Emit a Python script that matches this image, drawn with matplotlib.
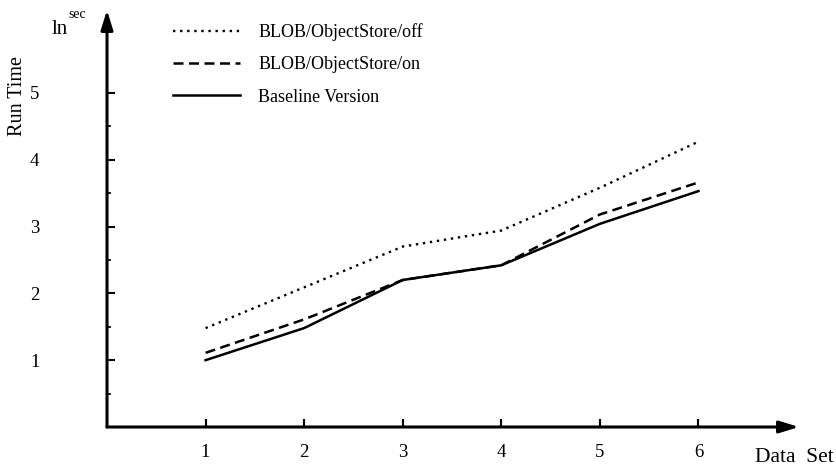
import matplotlib
matplotlib.use("Agg")
import matplotlib.pyplot as plt

data_sets = [1, 2, 3, 4, 5, 6]
blob_off = [1.48, 2.09, 2.70, 2.94, 3.58, 4.27]
blob_on = [1.11, 1.61, 2.20, 2.42, 3.18, 3.66]
baseline = [1.00, 1.48, 2.20, 2.42, 3.04, 3.53]
labels = ["BLOB/ObjectStore/off", "BLOB/ObjectStore/on", "Baseline Version"]
x_ticks = [1, 2, 3, 4, 5, 6]
y_ticks = [1, 2, 3, 4, 5]

plt.rcParams['font.family'] = ['Liberation Serif', 'DejaVu Serif']

fig = plt.figure(figsize=(8.36, 4.70), dpi=100)
ax = fig.add_axes([107/836, 1-427/470, (799-107)/836, (427-10)/470])

l1, = ax.plot(data_sets, blob_off, color='black', lw=1.7, linestyle=(0, (1, 2)))
l2, = ax.plot(data_sets, blob_on, color='black', lw=1.8, linestyle=(0, (4, 2.2)))
l3, = ax.plot(data_sets, baseline, color='black', lw=1.8, linestyle='-')

ax.set_xlim(0, 7.02)
ax.set_ylim(0, 6.24)
for s in ax.spines.values():
    s.set_visible(False)

for tip in [(1, 0), (0, 1)]:
    ax.annotate('', xy=tip, xytext=(0, 0), xycoords='axes fraction',
                arrowprops=dict(arrowstyle='-|>,head_length=0.65,head_width=0.2',
                                color='black', lw=2.2, mutation_scale=18,
                                shrinkA=0, shrinkB=0))

ax.set_xticks(x_ticks)
ax.set_yticks(y_ticks)
ax.set_yticks([0.5 + i for i in range(5)], minor=True)
ax.tick_params(axis='both', which='major', direction='in', length=6, width=1.5,
               labelsize=13.5, pad=8)
ax.tick_params(axis='y', which='minor', direction='in', length=3, width=1.2)
ax.tick_params(axis='y', which='major', pad=52)
ax.tick_params(axis='x', which='major', pad=12)
for lab in ax.get_yticklabels():
    lab.set_horizontalalignment('center')

fig.text(18/836, 1-96/470, 'Run Time', rotation=90, ha='center', va='center', fontsize=14.5)
fig.text(52/836, 1-29/470, 'ln', ha='left', va='center', fontsize=15)
fig.text(68/836, 1-15/470, 'sec', ha='left', va='center', fontsize=10)
fig.text(834/836, 1-457/470, 'Data  Set', ha='right', va='center', fontsize=15.5)

leg = ax.legend([l1, l2, l3], labels, loc='upper left',
                bbox_to_anchor=(157/836, 1-7/470), bbox_transform=fig.transFigure,
                frameon=False, fontsize=13, handlelength=3.7, handletextpad=1.0,
                labelspacing=0.85)

fig.savefig('out.png', dpi=100)
